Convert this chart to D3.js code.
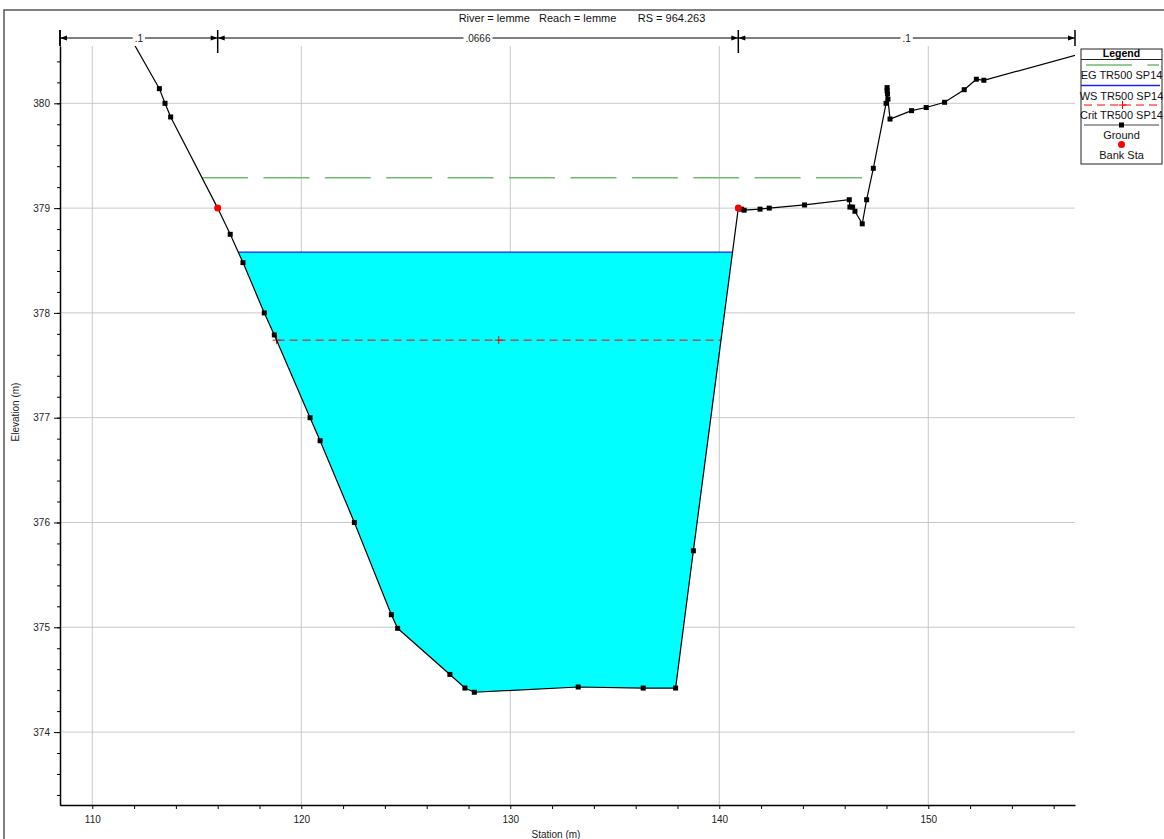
<!DOCTYPE html>
<html>
<head>
<meta charset="utf-8">
<script src="https://cdn.jsdelivr.net/npm/d3@7"></script>
<style>
body { margin: 0; background: #fff; }
svg { font-family: "Liberation Sans", Arial, sans-serif; }
.grid line { stroke: #c8c8c8; stroke-width: 1; }
.axis text { font-size: 10px; fill: #222; }
.axis path, .axis line { stroke: #000; }
</style>
</head>
<body>
<svg id="chart" width="1164" height="839"></svg>
<script>
// ground survey points (station m, elevation m)
var groundSta = [111.70, 113.21, 113.48, 113.75, 116.00, 116.60, 117.21, 118.23, 118.71, 120.42,
    120.90, 122.54, 124.31, 124.61, 127.11, 127.83, 128.28, 133.25, 136.36, 137.91,
    138.76, 140.91, 141.06, 141.19, 141.95, 142.39, 144.08, 146.22, 146.25, 146.38,
    146.49, 146.84, 147.05, 147.37, 147.98, 148.03, 148.03, 148.05, 148.07, 148.17,
    149.20, 149.90, 150.78, 151.72, 152.30, 152.66, 158.00];
var groundElev = [380.67, 380.14, 380.00, 379.87, 379.00, 378.75, 378.48, 378.00, 377.79, 377.00,
    376.78, 376.00, 375.12, 374.99, 374.55, 374.42, 374.38, 374.43, 374.42, 374.42,
    375.73, 379.00, 378.99, 378.98, 378.99, 379.00, 379.03, 379.08, 379.01, 379.01,
    378.97, 378.85, 379.08, 379.38, 380.00, 380.15, 380.12, 380.09, 380.04, 379.85,
    379.93, 379.96, 380.01, 380.13, 380.23, 380.22, 380.51];
var bankSta = [116.00, 140.91];
var bankElev = [379.00, 379.00];
var nValues = [".1", ".0666", ".1"];
var egElev = 379.29, wsElev = 378.58, critElev = 377.74;
var xTicks = [110, 120, 130, 140, 150];
var yTicks = [374, 375, 376, 377, 378, 379, 380];
var titleText = "River = lemme   Reach = lemme       RS = 964.263";
var legendLabels = ["EG TR500 SP14", "WS TR500 SP14", "Crit TR500 SP14", "Ground", "Bank Sta"];

var svg = d3.select("#chart"),
    pLeft = 60, pRight = 1075, pTop = 46, pBottom = 805;

var x = d3.scaleLinear().domain([108.455, 157.02]).range([pLeft, pRight]),
    y = d3.scaleLinear().domain([373.304, 380.547]).range([pBottom, pTop]);

// outer frame
svg.append("path").attr("d", "M4,839V10H1164").attr("fill", "none").attr("stroke", "#555").attr("stroke-width", 1.5);

svg.append("defs").append("clipPath").attr("id", "clip")
    .append("rect").attr("x", pLeft).attr("y", pTop).attr("width", pRight - pLeft).attr("height", pBottom - pTop);

// grid
var grid = svg.append("g").attr("class", "grid");
grid.selectAll(".gx").data(xTicks).enter().append("line")
    .attr("x1", function(d) { return x(d); }).attr("x2", function(d) { return x(d); })
    .attr("y1", pTop).attr("y2", pBottom);
grid.selectAll(".gy").data(yTicks).enter().append("line")
    .attr("x1", pLeft).attr("x2", pRight)
    .attr("y1", function(d) { return y(d); }).attr("y2", function(d) { return y(d); });

// where a water level meets the ground either side of the thalweg
function crossings(level) {
    var lo = d3.minIndex(groundElev), i = lo, j = lo;
    while (i > 0 && groundElev[i - 1] < level) i--;
    while (j < groundElev.length - 1 && groundElev[j + 1] < level) j++;
    function at(a, b) {
        var t = (level - groundElev[a]) / (groundElev[b] - groundElev[a]);
        return groundSta[a] + t * (groundSta[b] - groundSta[a]);
    }
    return { l: at(i - 1, i), r: at(j + 1, j), i: i, j: j };
}

var plot = svg.append("g").attr("clip-path", "url(#clip)");

// wetted area
var ws = crossings(wsElev);
var wet = [[ws.l, wsElev]];
for (var k = ws.i; k <= ws.j; k++) wet.push([groundSta[k], groundElev[k]]);
wet.push([ws.r, wsElev]);
plot.append("path").datum(wet)
    .attr("fill", "#00ffff")
    .attr("d", d3.area().x(function(d) { return x(d[0]); }).y0(function(d) { return y(d[1]); }).y1(y(wsElev)));

plot.append("line")
    .attr("x1", x(ws.l)).attr("x2", x(ws.r)).attr("y1", y(wsElev)).attr("y2", y(wsElev))
    .attr("stroke", "#2020ff").attr("stroke-width", 1.3);

var eg = crossings(egElev);
plot.append("line")
    .attr("x1", x(eg.l)).attr("x2", x(eg.r)).attr("y1", y(egElev)).attr("y2", y(egElev))
    .attr("stroke", "#72ba72").attr("stroke-width", 1.5).attr("stroke-dasharray", "46,15.4");

var cr = crossings(critElev);
plot.append("line")
    .attr("x1", x(cr.l)).attr("x2", x(cr.r)).attr("y1", y(critElev)).attr("y2", y(critElev))
    .attr("stroke", "#ff0000").attr("stroke-width", 1).attr("stroke-dasharray", "8,5");
plot.selectAll(".critmark").data([cr.l, (cr.l + cr.r) / 2]).enter().append("path")
    .attr("d", function(d) { var cx = x(d), cy = y(critElev); return "M" + (cx - 4) + "," + cy + "H" + (cx + 4) + "M" + cx + "," + (cy - 4) + "V" + (cy + 4); })
    .attr("stroke", "#ff0000").attr("stroke-width", 1);

// ground
var pts = d3.zip(groundSta, groundElev);
plot.append("path").datum(pts)
    .attr("fill", "none").attr("stroke", "#000").attr("stroke-width", 1.2)
    .attr("d", d3.line().x(function(d) { return x(d[0]); }).y(function(d) { return y(d[1]); }));
plot.selectAll(".gpt").data(pts).enter().append("rect")
    .attr("width", 5).attr("height", 5)
    .attr("x", function(d) { return x(d[0]) - 2.5; })
    .attr("y", function(d) { return y(d[1]) - 2.5; })
    .attr("fill", "#000");
plot.selectAll(".bank").data(d3.zip(bankSta, bankElev)).enter().append("circle")
    .attr("r", 3.5)
    .attr("cx", function(d) { return x(d[0]); })
    .attr("cy", function(d) { return y(d[1]); })
    .attr("fill", "#ff0000");

// axes
var xAxis = svg.append("g").attr("class", "axis").attr("transform", "translate(0," + pBottom + ")")
    .call(d3.axisBottom(x).tickValues(d3.range(110, 158, 2)).tickSize(4).tickSizeOuter(0)
        .tickFormat(function(d) { return d % 10 === 0 ? d : ""; }));
xAxis.selectAll("text").attr("dy", "1.05em");
xAxis.select(".domain").attr("stroke-width", 1.5);

svg.append("g").attr("class", "axis").attr("transform", "translate(" + pLeft + ",0)")
    .call(d3.axisLeft(y).tickValues(d3.range(3734, 3806, 2).map(function(v) { return v / 10; }))
        .tickSize(3).tickSizeOuter(0).tickFormat(""));
var yAxis = svg.append("g").attr("class", "axis").attr("transform", "translate(" + pLeft + ",0)")
    .call(d3.axisLeft(y).tickValues(yTicks).tickSize(6).tickSizeOuter(0).tickPadding(4));
yAxis.select(".domain").attr("stroke-width", 1.5);
svg.append("line").attr("x1", pLeft).attr("x2", pLeft).attr("y1", 30).attr("y2", pTop)
    .attr("stroke", "#000").attr("stroke-width", 1.5);

svg.append("text").attr("x", 556).attr("y", 838).attr("text-anchor", "middle")
    .style("font-size", "10px").attr("fill", "#222").text("Station (m)");
svg.append("text").attr("transform", "translate(19,412) rotate(-90)").attr("text-anchor", "middle")
    .style("font-size", "10px").attr("fill", "#222").text("Elevation (m)");

// title
svg.append("text").attr("x", 582).attr("y", 22).attr("text-anchor", "middle")
    .style("font-size", "11px").style("white-space", "pre").attr("fill", "#111").text(titleText);

// manning's n bar
var nBreaks = [x.domain()[0]].concat(bankSta, [x.domain()[1]]),
    barY = 38;
var nbar = svg.append("g");
nbar.append("line").attr("x1", x(nBreaks[0])).attr("x2", x(nBreaks[3]))
    .attr("y1", barY).attr("y2", barY).attr("stroke", "#000").attr("stroke-width", 1.2);
nbar.selectAll(".tick").data(nBreaks).enter().append("line")
    .attr("x1", function(d) { return x(d); }).attr("x2", function(d) { return x(d); })
    .attr("y1", 30).attr("y2", function(d, i) { return i === 0 || i === 3 ? 46 : 53; })
    .attr("stroke", "#000").attr("stroke-width", 1.5);
nValues.forEach(function(n, i) {
    var a = x(nBreaks[i]), b = x(nBreaks[i + 1]), m = (a + b) / 2;
    nbar.append("path").attr("d", "M" + a + "," + barY + "l7,-2.5v5z");
    nbar.append("path").attr("d", "M" + b + "," + barY + "l-7,-2.5v5z");
    var t = nbar.append("text").attr("x", m).attr("y", barY + 3.5).attr("text-anchor", "middle")
        .style("font-size", "10px").attr("fill", "#222").text(n);
    var w = t.node().getComputedTextLength() + 4;
    nbar.insert("rect", "text").attr("x", m - w / 2).attr("y", barY - 5).attr("width", w).attr("height", 10).attr("fill", "#fff");
});

// legend
var lg = svg.append("g").attr("transform", "translate(1081,49)");
lg.append("rect").attr("width", 81).attr("height", 115).attr("fill", "#fff").attr("stroke", "#222");
lg.append("line").attr("x1", 0).attr("x2", 81).attr("y1", 10.5).attr("y2", 10.5).attr("stroke", "#222");
lg.append("text").attr("x", 40.5).attr("y", 8).attr("text-anchor", "middle")
    .style("font-size", "10.5px").style("font-weight", "bold").text("Legend");
var rowY = [16, 36.5, 56, 76, 95.5];
lg.append("line").attr("x1", 5).attr("x2", 78).attr("y1", rowY[0]).attr("y2", rowY[0])
    .attr("stroke", "#72ba72").attr("stroke-width", 1.5).attr("stroke-dasharray", "46,15.4");
lg.append("line").attr("x1", 0).attr("x2", 79).attr("y1", rowY[1]).attr("y2", rowY[1])
    .attr("stroke", "#2020ff").attr("stroke-width", 1.3);
lg.append("line").attr("x1", 3).attr("x2", 78).attr("y1", rowY[2]).attr("y2", rowY[2])
    .attr("stroke", "#ff0000").attr("stroke-dasharray", "8,5");
lg.append("path").attr("d", "M37.5," + rowY[2] + "h8M41.5," + (rowY[2] - 4) + "v8").attr("stroke", "#ff0000");
lg.append("line").attr("x1", 3).attr("x2", 78).attr("y1", rowY[3]).attr("y2", rowY[3])
    .attr("stroke", "#444").attr("stroke-width", 1.2);
lg.append("rect").attr("x", 38).attr("y", rowY[3] - 2.5).attr("width", 5).attr("height", 5);
lg.append("circle").attr("cx", 40.5).attr("cy", rowY[4]).attr("r", 3.5).attr("fill", "#ff0000");
lg.selectAll(".lbl").data(legendLabels).enter().append("text")
    .attr("x", 40.5).attr("y", function(d, i) { return rowY[i] + 14; })
    .attr("text-anchor", "middle").style("font-size", "11px").attr("fill", "#111")
    .text(function(d) { return d; });
</script>
</body>
</html>
